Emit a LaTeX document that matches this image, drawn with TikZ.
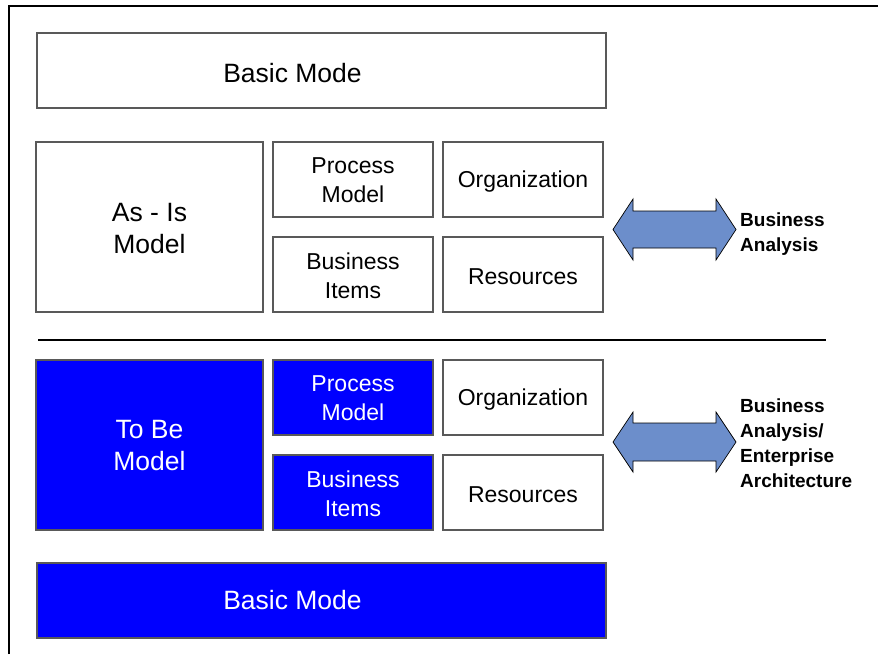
\documentclass[tikz,border=0pt]{standalone}
\usepackage{fontspec}
\setmainfont{Liberation Sans}
\definecolor{arrowblue}{RGB}{108,142,203}
\definecolor{pureblue}{RGB}{0,0,255}
\begin{document}
\begin{tikzpicture}[x=1pt,y=-1pt,
  box/.style={draw=black!65, line width=1.3pt, fill=white, inner sep=0pt},
  bluebox/.style={box, fill=pureblue},
  txt/.style={inner sep=0pt, align=center, font=\fontsize{23}{29}\selectfont},
  wtxt/.style={txt, text=white},
  big/.style={font=\fontsize{26.5}{32}\selectfont},
  wide/.style={minimum width=569pt, minimum height=75pt},
  tall/.style={minimum width=227pt, minimum height=170pt},
  small/.style={minimum width=160pt, minimum height=75pt},
  dblarrow/.style={draw=black, line width=0.7pt, fill=arrowblue},
  side/.style={align=left, anchor=west, inner sep=0pt, font=\bfseries\fontsize{19}{25}\selectfont}]
\useasboundingbox (0,0) rectangle (878,654);
\draw[line width=2pt] (9,654) -- (9,6) -- (878,6);

% top half
\node[box, wide] (bm1) at (321.5,70.5) {};
\node[txt, big] (bm1t) at (292.5,73) {Basic Mode};
\node[box, tall] (asis) at (149.5,227) {};
\node[txt, big] (asist) at ([yshift=-2pt]asis.center) {As - Is\\Model};
\node[box, small] (pm1) at (353,179.5) {};
\node[txt] (pm1t) at ([yshift=-1pt]pm1.center) {Process\\Model};
\node[box, small] (org1) at (523,179.5) {};
\node[txt] (org1t) at ([yshift=-2.5pt]org1.center) {Organization};
\node[box, small] (bi1) at (353,274.5) {};
\node[txt] (bi1t) at ([yshift=-1pt]bi1.center) {Business\\Items};
\node[box, small] (res1) at (523,274.5) {};
\node[txt] (res1t) at ([yshift=-2pt]res1.center) {Resources};

% separator
\coordinate (sepL) at (38,340);
\coordinate (sepR) at (826,340);
\draw[line width=2pt] (sepL) -- (sepR);

% bottom half
\node[bluebox, tall] (tobe) at (149.5,445) {};
\node[wtxt, big] (tobet) at ([yshift=-1pt]tobe.center) {To Be\\Model};
\node[bluebox, small] (pm2) at (353,397.5) {};
\node[wtxt] (pm2t) at ([yshift=-1pt]pm2.center) {Process\\Model};
\node[box, small] (org2) at (523,397.5) {};
\node[txt] (org2t) at ([yshift=-2.5pt]org2.center) {Organization};
\node[bluebox, small] (bi2) at (353,492.5) {};
\node[wtxt] (bi2t) at ([yshift=-1pt]bi2.center) {Business\\Items};
\node[box, small] (res2) at (523,492.5) {};
\node[txt] (res2t) at ([yshift=-2pt]res2.center) {Resources};
\node[bluebox, wide] (bm2) at (321.5,600.5) {};
\node[wtxt, big] (bm2t) at (292.5,600.5) {Basic Mode};

% double arrows
\draw[dblarrow] (613,229.5) -- (633,199) -- (633,211) -- (716,211) -- (716,199) -- (736,229.5)
  -- (716,260) -- (716,248) -- (633,248) -- (633,260) -- cycle;
\draw[dblarrow] (613,442) -- (633,412) -- (633,423) -- (716,423) -- (716,412) -- (736,442)
  -- (716,472) -- (716,461) -- (633,461) -- (633,472) -- cycle;

\node[side] (lab1) at (740,234.5) {Business\\Analysis};
\node[side] (lab2) at (740,443.5) {Business\\Analysis/\\Enterprise\\Architecture};
\end{tikzpicture}
\end{document}
